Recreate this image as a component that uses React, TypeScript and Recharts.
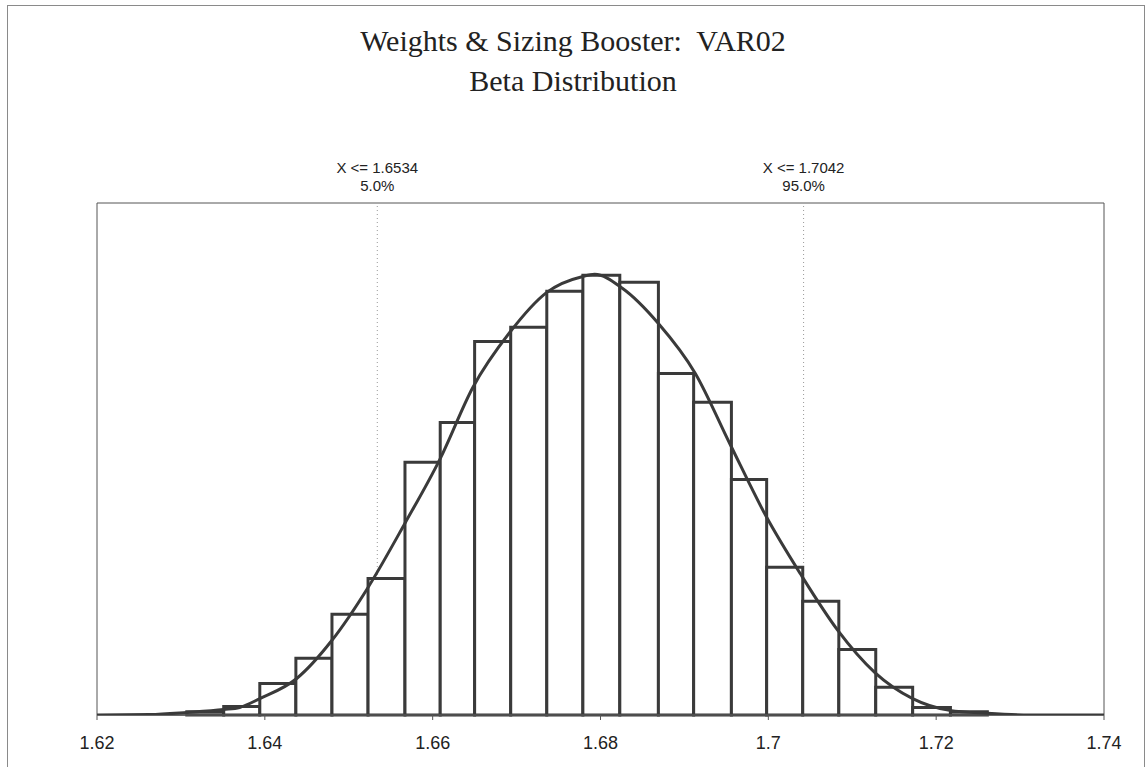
import { ComposedChart, Line, XAxis, YAxis, ReferenceArea, ReferenceLine } from 'recharts';

// histogram bins (left/right edges) and bar heights, % of samples per bin
const binEdges = [
  1.6307, 1.6351, 1.6394, 1.6437, 1.648, 1.6523, 1.6567, 1.6609, 1.665, 1.6693, 1.6736, 1.6779,
  1.6823, 1.6869, 1.6911, 1.6956, 1.6998, 1.7041, 1.7084, 1.7128, 1.7172, 1.7217, 1.7261,
];
const binHeights = [
  0.08, 0.2, 0.75, 1.35, 2.4, 3.25, 6.02, 6.97, 8.9, 9.24, 10.1, 10.48, 10.31, 8.14, 7.45, 5.61,
  3.52, 2.71, 1.56, 0.66, 0.18, 0.08,
];

// fitted beta curve
const curveX = [
  1.62, 1.6263, 1.6307, 1.6351, 1.637, 1.6394, 1.6438, 1.648, 1.6523, 1.6567, 1.6609, 1.6648,
  1.6692, 1.6736, 1.6779, 1.6793, 1.6826, 1.6869, 1.6913, 1.6954, 1.6998, 1.7038, 1.7083, 1.7127,
  1.7172, 1.7216, 1.7261, 1.7312, 1.74,
];
const curveY = [
  0, 0.01, 0.06, 0.13, 0.18, 0.39, 0.87, 1.78, 3.04, 4.57, 6.11, 7.81, 9.12, 10.07, 10.45, 10.5,
  10.17, 9.33, 8.14, 6.47, 4.71, 3.37, 2.01, 1.01, 0.39, 0.11, 0.04, 0, 0,
];

const markerX = [1.6534, 1.7042];
const markerText = ['X <= 1.6534', 'X <= 1.7042'];
const markerPct = ['5.0%', '95.0%'];

const xTicks = [1.62, 1.64, 1.66, 1.68, 1.7, 1.72, 1.74];

const curveData = curveX.map((x, i) => ({ x, y: curveY[i] }));

const ink = '#3a3a3a';
const sans = 'Arial, "Liberation Sans", sans-serif';
const serif = '"Times New Roman", "Liberation Serif", serif';

function MarkerLabel(props: any) {
  const { viewBox, line1, line2 } = props;
  const cx = viewBox.x;
  const top = viewBox.y;
  return (
    <g fontFamily={sans} fontSize={15} fill="#222" textAnchor="middle">
      <text x={cx} y={top - 30}>{line1}</text>
      <text x={cx} y={top - 12}>{line2}</text>
    </g>
  );
}

export default function App() {
  return (
    <div style={{ position: 'absolute', left: 0, top: 0, width: 1146, height: 767, background: '#fff', overflow: 'hidden' }}>
      <div style={{ position: 'absolute', left: 7, top: 5, width: 1136, height: 780, border: '1px solid #8a8a8a' }} />
      <div style={{ position: 'absolute', left: 0, top: 23, width: 1146, textAlign: 'center', fontFamily: serif, fontSize: 30, lineHeight: '36px', color: '#222' }}>
        Weights &amp; Sizing Booster:&nbsp; VAR02
      </div>
      <div style={{ position: 'absolute', left: 0, top: 63, width: 1146, textAlign: 'center', fontFamily: serif, fontSize: 30, lineHeight: '36px', color: '#222' }}>
        Beta Distribution
      </div>
      <div style={{ position: 'absolute', left: 0, top: 0 }}>
        <ComposedChart width={1146} height={767} data={curveData} margin={{ top: 203, right: 42, bottom: 12, left: 97 }}>
          <XAxis
            dataKey="x"
            type="number"
            domain={[1.62, 1.74]}
            ticks={xTicks}
            allowDataOverflow
            height={40}
            tickSize={5}
            tickMargin={16}
            tick={{ fontFamily: sans, fontSize: 18, fill: '#222' }}
            axisLine={{ stroke: '#555', strokeWidth: 1.5 }}
            tickLine={{ stroke: '#555' }}
          />
          <YAxis hide domain={[0, 12.2]} allowDataOverflow />
          <ReferenceArea x1={1.62} x2={1.74} y1={0} y2={12.2} fill="none" stroke="#555" strokeWidth={1} ifOverflow="visible" />
          {markerX.map((mx, i) => (
            <ReferenceLine
              key={'m' + i}
              x={mx}
              stroke="#9a9a9a"
              strokeDasharray="1 3"
              strokeWidth={1}
              zIndex={50}
              label={<MarkerLabel line1={markerText[i]} line2={markerPct[i]} />}
            />
          ))}
          {binHeights.map((h, i) => (
            <ReferenceArea
              key={'b' + i}
              x1={binEdges[i]}
              x2={binEdges[i + 1]}
              y1={0}
              y2={h}
              fill="#fff"
              fillOpacity={1}
              stroke={ink}
              strokeWidth={3}
              strokeOpacity={1}
              zIndex={100}
            />
          ))}
          <Line
            type="monotone"
            dataKey="y"
            stroke={ink}
            strokeWidth={3}
            dot={false}
            activeDot={false}
            isAnimationActive={false}
            zIndex={600}
          />
        </ComposedChart>
      </div>
    </div>
  );
}
